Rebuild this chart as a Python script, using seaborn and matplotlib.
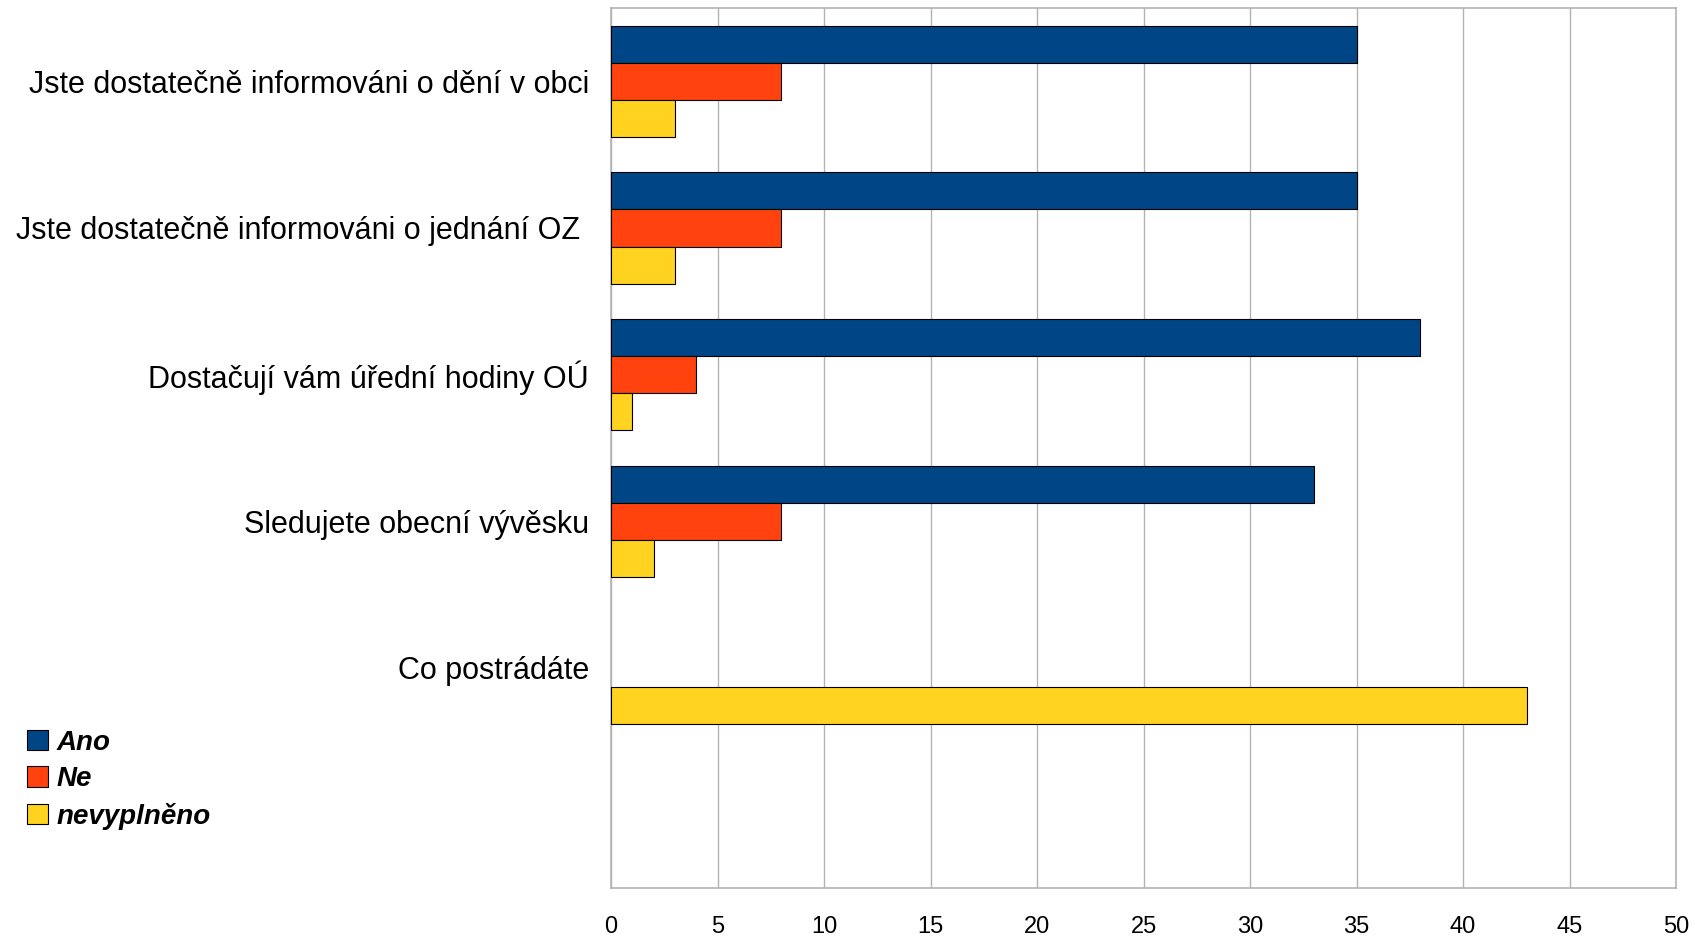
import pandas as pd
import numpy as np
import matplotlib
matplotlib.use("Agg")
import matplotlib.pyplot as plt
import seaborn as sns

# survey answers per question
questions = ["Jste dostatečně informováni o dění v obci",
             "Jste dostatečně informováni o jednání OZ ",
             "Dostačují vám úřední hodiny OÚ",
             "Sledujete obecní vývěsku",
             "Co postrádáte"]
ano = [35, 35, 38, 33, np.nan]
ne = [8, 8, 4, 8, np.nan]
nevyplneno = [3, 3, 1, 2, 43]
answers = ["Ano", "Ne", "nevyplněno"]
colors = ["#004586", "#ff420e", "#ffd320"]

df = pd.DataFrame({"Otázka": questions * 3,
                   "Odpověď": np.repeat(answers, len(questions)),
                   "Počet": ano + ne + nevyplneno})

sns.set_style("white")
plt.rcParams["font.family"] = ["Liberation Sans", "DejaVu Sans"]
plt.rcParams["text.color"] = "black"
plt.rcParams["xtick.color"] = "black"
plt.rcParams["ytick.color"] = "black"
grey = "#b3b3b3"

fig = plt.figure(figsize=(16.95, 9.36), dpi=100)
ax = fig.add_axes([0.3605, 0.0513, 0.9888 - 0.3605, 0.9915 - 0.0513])

# extra empty slot at the bottom, like in the original chart
order = questions + [""]
sns.barplot(data=df, y="Otázka", x="Počet", hue="Odpověď", order=order,
            hue_order=answers, palette=colors, saturation=1, width=0.76,
            edgecolor="black", linewidth=0.8, orient="h", ax=ax, zorder=3)

ax.set_xlim(0, 50)
ax.set_ylim(5.5, -0.5)
ax.set_xticks(range(0, 51, 5))
ax.set_xlabel("")
ax.set_ylabel("")
ax.grid(axis="x", color=grey, linewidth=1.0, zorder=0)
ax.grid(axis="y", visible=False)
for s in ax.spines.values():
    s.set_color(grey)
    s.set_linewidth(1.2)
ax.tick_params(axis="x", length=8, color=grey, width=1, pad=12,
               labelsize=17, labelcolor="black")
ax.tick_params(axis="y", length=8, color=grey, width=1, pad=8,
               labelsize=22, labelcolor="black")
ax.set_axisbelow(True)

ax.legend_.remove()
handles = [plt.Rectangle((0, 0), 1, 1, facecolor=c, edgecolor="black",
                         linewidth=0.8) for c in colors]
fig.legend(handles, answers, loc="center left",
           bbox_to_anchor=(0.008, 0.167), bbox_transform=fig.transFigure,
           frameon=False, borderpad=0, handlelength=0.75, handleheight=0.75,
           handletextpad=0.3, labelspacing=0.38,
           prop={"size": 20, "weight": "bold", "style": "italic"})

fig.savefig("out.png", dpi=100, facecolor="white")
